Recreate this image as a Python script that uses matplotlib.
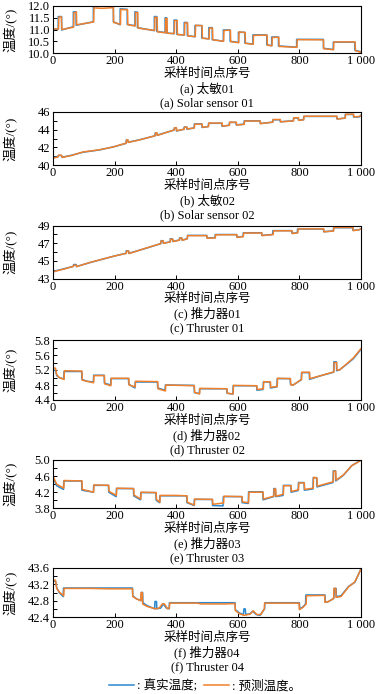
import matplotlib
matplotlib.use("Agg")
import matplotlib.pyplot as plt
from matplotlib.ticker import FixedLocator, FuncFormatter
from matplotlib.lines import Line2D

plt.rcParams['font.family'] = ['Liberation Serif', 'Noto Sans CJK SC']
plt.rcParams['axes.unicode_minus'] = False

# ---------------- data: (sample index, temperature) vertices ----------------
A_REAL = [(0, 11.0), (17, 11.02), (17, 11.55), (28, 11.55), (28, 10.98), (66, 11.12), (66, 11.75), (75, 11.75),
          (75, 11.18), (131, 11.33), (131, 12.0), (196, 11.98), (196, 11.33), (218, 11.2), (218, 11.88),
          (241, 11.86), (241, 11.22), (266, 11.16), (266, 11.75), (274, 11.74), (274, 11.08), (329, 10.95),
          (329, 11.55), (337, 11.55), (337, 10.92), (364, 10.87), (364, 11.5), (369, 11.5), (369, 10.85),
          (393, 10.82), (393, 11.4), (402, 11.4), (402, 10.8), (426, 10.76), (426, 11.3), (436, 11.3),
          (436, 10.74), (461, 10.69), (461, 11.17), (483, 11.17), (483, 10.64), (506, 10.6), (506, 11.08),
          (517, 11.08), (517, 10.57), (553, 10.5), (553, 10.98), (575, 10.98), (575, 10.5), (602, 10.45),
          (602, 10.88), (623, 10.88), (623, 10.42), (649, 10.38), (649, 10.77), (694, 10.77), (694, 10.35),
          (710, 10.31), (710, 10.68), (732, 10.68), (732, 10.3), (791, 10.25), (791, 10.58), (878, 10.58),
          (878, 10.2), (910, 10.15), (910, 10.46), (980, 10.46), (980, 10.12), (1000, 10.05)]
A_PRED = [(0, 11.02), (18, 11.03), (19, 11.52), (27, 11.54), (29, 11.0), (67, 11.1), (68, 11.72), (76, 11.74),
          (77, 11.2), (132, 11.32), (133, 11.92), (160, 11.9), (196, 11.93), (197, 11.3), (219, 11.22),
          (220, 11.85), (242, 11.84), (243, 11.2), (267, 11.15), (268, 11.72), (275, 11.72), (276, 11.06),
          (330, 10.96), (331, 11.52), (338, 11.52), (339, 10.9), (365, 10.86), (366, 11.47), (370, 11.47),
          (371, 10.84), (394, 10.83), (395, 11.38), (403, 11.38), (404, 10.78), (427, 10.77), (428, 11.28),
          (437, 11.28), (438, 10.72), (462, 10.7), (463, 11.18), (484, 11.16), (485, 10.63), (507, 10.6),
          (508, 11.06), (518, 11.06), (519, 10.56), (554, 10.5), (555, 10.96), (576, 10.97), (577, 10.48),
          (603, 10.44), (604, 10.9), (624, 10.87), (625, 10.41), (650, 10.37), (651, 10.75), (695, 10.76),
          (696, 10.33), (711, 10.31), (712, 10.66), (733, 10.67), (734, 10.28), (792, 10.24), (793, 10.57),
          (878, 10.56), (879, 10.18), (911, 10.14), (912, 10.47), (981, 10.47), (982, 10.1), (1000, 10.03)]

B_REAL = [(0, 40.85), (15, 40.9), (17, 41.08), (27, 41.08), (29, 40.88), (60, 41.1), (98, 41.45), (150, 41.7),
          (196, 42.05), (237, 42.45), (238, 42.82), (243, 42.8), (244, 42.58), (280, 42.85), (331, 43.3),
          (332, 43.62), (337, 43.6), (338, 43.38), (393, 43.95), (394, 44.2), (400, 44.2), (401, 43.85),
          (425, 44.05), (426, 44.3), (434, 44.3), (435, 44.05), (458, 44.2), (459, 44.65), (483, 44.65),
          (484, 44.25), (504, 44.35), (505, 44.72), (548, 44.72), (549, 44.38), (572, 44.5), (573, 44.82),
          (594, 44.82), (595, 44.55), (620, 44.62), (621, 45.0), (672, 45.0), (673, 44.7), (713, 44.85),
          (714, 45.12), (737, 45.12), (738, 44.9), (780, 45.0), (781, 45.32), (796, 45.32), (797, 45.08),
          (813, 45.12), (814, 45.5), (921, 45.5), (922, 45.22), (948, 45.3), (949, 45.72), (975, 45.72),
          (976, 45.42), (995, 45.45), (1000, 45.65)]
B_PRED = [(0, 40.8), (15, 40.88), (18, 41.1), (28, 41.1), (30, 40.85), (60, 41.08), (98, 41.48), (150, 41.72),
          (196, 42.05), (238, 42.48), (239, 42.85), (244, 42.82), (245, 42.56), (280, 42.83), (332, 43.32),
          (333, 43.65), (338, 43.62), (339, 43.35), (394, 43.98), (395, 44.22), (401, 44.2), (402, 43.88),
          (426, 44.05), (427, 44.28), (435, 44.28), (436, 44.08), (459, 44.2), (460, 44.62), (484, 44.62),
          (485, 44.28), (505, 44.35), (506, 44.75), (549, 44.74), (550, 44.4), (573, 44.5), (574, 44.85),
          (595, 44.84), (596, 44.52), (621, 44.6), (622, 44.98), (673, 44.98), (674, 44.68), (714, 44.85),
          (715, 45.15), (738, 45.15), (739, 44.88), (781, 45.0), (782, 45.35), (797, 45.35), (798, 45.05),
          (814, 45.12), (815, 45.52), (922, 45.52), (923, 45.2), (949, 45.32), (950, 45.75), (976, 45.75),
          (977, 45.45), (995, 45.5), (1000, 45.6)]

C_REAL = [(0, 43.8), (30, 44.05), (66, 44.38), (67, 44.58), (75, 44.58), (76, 44.35), (120, 44.8),
          (200, 45.55), (237, 45.85), (238, 46.15), (245, 46.12), (246, 45.85), (300, 46.4), (350, 46.95),
          (351, 47.28), (357, 47.28), (358, 47.0), (380, 47.15), (381, 47.5), (388, 47.48), (389, 47.2),
          (410, 47.35), (411, 47.6), (418, 47.58), (419, 47.35), (436, 47.5), (437, 47.88), (499, 47.88),
          (500, 47.58), (526, 47.62), (527, 47.98), (596, 47.98), (597, 47.7), (617, 47.75), (618, 48.18),
          (677, 48.18), (678, 47.88), (713, 47.98), (714, 48.42), (775, 48.42), (776, 48.12), (793, 48.18),
          (794, 48.6), (878, 48.6), (879, 48.3), (910, 48.38), (911, 48.75), (973, 48.75), (974, 48.45),
          (992, 48.5), (1000, 48.62)]
C_PRED = [(0, 43.75), (30, 44.02), (66, 44.36), (67, 44.5), (76, 44.5), (77, 44.35), (120, 44.82),
          (200, 45.55), (238, 45.85), (239, 46.12), (246, 46.1), (247, 45.82), (300, 46.42), (350, 46.95),
          (351, 47.25), (358, 47.25), (359, 46.98), (381, 47.15), (382, 47.45), (389, 47.45), (390, 47.18),
          (411, 47.35), (412, 47.58), (419, 47.56), (420, 47.32), (436, 47.5), (437, 47.85), (500, 47.85),
          (501, 47.55), (527, 47.6), (528, 47.95), (597, 47.95), (598, 47.65), (618, 47.75), (619, 48.15),
          (678, 48.15), (679, 47.85), (715, 47.98), (716, 48.4), (776, 48.4), (777, 48.08), (795, 48.18),
          (796, 48.62), (879, 48.62), (880, 48.28), (911, 48.38), (912, 48.78), (974, 48.78), (975, 48.42),
          (992, 48.5), (1000, 48.62)]

D_REAL = [(0, 5.18), (8, 5.2), (12, 5.05), (20, 5.0), (35, 4.96), (36, 5.16), (93, 5.16), (94, 4.95),
          (110, 4.9), (131, 4.88), (132, 5.06), (166, 5.06), (167, 4.85), (187, 4.8), (188, 4.97), (245, 4.97),
          (246, 4.82), (266, 4.72), (267, 4.88), (339, 4.88), (340, 4.72), (364, 4.66), (365, 4.8), (458, 4.79),
          (459, 4.6), (475, 4.57), (476, 4.7), (564, 4.7), (565, 4.58), (584, 4.56), (585, 4.78), (661, 4.78),
          (662, 4.66), (682, 4.68), (683, 4.88), (705, 4.88), (706, 4.72), (727, 4.75), (728, 4.97),
          (770, 4.97), (771, 4.82), (780, 4.8), (806, 4.94), (807, 5.13), (832, 5.13), (833, 4.95), (870, 5.05),
          (911, 5.14), (912, 5.42), (920, 5.42), (921, 5.18), (930, 5.2), (953, 5.35), (975, 5.5), (1000, 5.75)]
D_PRED = [(0, 5.25), (8, 5.25), (12, 5.08), (20, 5.0), (36, 4.95), (37, 5.18), (94, 5.17), (95, 4.93),
          (110, 4.9), (132, 4.86), (133, 5.05), (167, 5.05), (168, 4.83), (188, 4.78), (189, 4.98), (246, 4.98),
          (247, 4.8), (267, 4.75), (268, 4.9), (340, 4.89), (341, 4.7), (365, 4.64), (366, 4.8), (459, 4.78),
          (460, 4.6), (476, 4.56), (477, 4.71), (565, 4.7), (566, 4.58), (585, 4.56), (586, 4.79), (662, 4.78),
          (663, 4.68), (683, 4.7), (684, 4.89), (706, 4.88), (707, 4.74), (728, 4.76), (729, 4.98),
          (771, 4.97), (772, 4.8), (780, 4.8), (807, 4.95), (808, 5.14), (833, 5.14), (834, 4.97), (870, 5.05),
          (912, 5.15), (913, 5.4), (921, 5.4), (922, 5.2), (930, 5.2), (953, 5.36), (975, 5.52), (1000, 5.77)]

E_REAL = [(0, 4.57), (12, 4.36), (34, 4.27), (35, 4.48), (93, 4.48), (94, 4.25), (131, 4.2), (132, 4.37),
          (180, 4.37), (181, 4.2), (205, 4.09), (206, 4.29), (261, 4.29), (262, 4.11), (284, 4.01), (285, 4.19),
          (334, 4.19), (335, 4.0), (346, 3.94), (347, 4.11), (434, 4.11), (435, 3.94), (458, 3.87), (459, 4.02),
          (517, 4.02), (518, 3.87), (552, 3.86), (553, 4.09), (613, 4.09), (614, 3.94), (634, 3.92), (635, 4.21),
          (681, 4.21), (682, 4.01), (716, 4.09), (717, 4.29), (722, 4.29), (723, 4.09), (747, 4.12),
          (748, 4.37), (772, 4.37), (773, 4.2), (796, 4.24), (797, 4.44), (815, 4.44), (816, 4.25), (844, 4.28),
          (845, 4.56), (856, 4.56), (857, 4.33), (909, 4.44), (910, 4.73), (917, 4.73), (918, 4.48),
          (943, 4.62), (970, 4.86), (1000, 5.0)]
E_PRED = [(0, 4.6), (12, 4.4), (35, 4.3), (36, 4.49), (94, 4.48), (95, 4.27), (132, 4.2), (133, 4.38),
          (181, 4.37), (182, 4.22), (206, 4.12), (207, 4.3), (262, 4.29), (263, 4.13), (285, 4.03), (286, 4.2),
          (335, 4.19), (336, 4.02), (347, 3.95), (348, 4.12), (400, 4.12), (435, 4.11), (436, 3.95), (459, 3.88),
          (460, 4.03), (518, 4.02), (519, 3.9), (540, 3.92), (554, 3.93), (555, 4.1), (614, 4.09), (615, 3.96),
          (635, 3.94), (636, 4.2), (682, 4.2), (683, 4.03), (717, 4.1), (718, 4.28), (723, 4.28), (724, 4.1),
          (748, 4.15), (749, 4.36), (773, 4.36), (774, 4.22), (797, 4.26), (798, 4.43), (816, 4.43),
          (817, 4.27), (845, 4.3), (846, 4.57), (857, 4.55), (858, 4.35), (910, 4.46), (911, 4.72), (918, 4.72),
          (919, 4.5), (943, 4.63), (970, 4.86), (1000, 4.99)]

F_REAL = [(0, 43.28), (8, 43.28), (12, 43.12), (20, 43.0), (33, 42.9), (34, 43.11), (258, 43.11), (259, 42.92),
          (270, 42.85), (286, 42.8), (287, 43.0), (291, 43.0), (292, 42.75), (305, 42.68), (330, 42.6),
          (331, 42.78), (336, 42.78), (337, 42.6), (350, 42.62), (358, 42.72), (368, 42.62), (377, 42.6),
          (378, 42.75), (591, 42.75), (592, 42.58), (605, 42.5), (618, 42.46), (620, 42.6), (624, 42.6),
          (626, 42.46), (640, 42.48), (648, 42.54), (660, 42.46), (672, 42.44), (687, 42.6), (688, 42.75),
          (800, 42.75), (801, 42.6), (812, 42.65), (820, 42.72), (821, 42.94), (883, 42.94), (884, 42.76),
          (895, 42.78), (912, 42.86), (913, 43.1), (919, 43.1), (920, 42.9), (935, 42.92), (960, 43.15),
          (980, 43.25), (1000, 43.58)]
F_PRED = [(0, 43.3), (8, 43.3), (12, 43.1), (22, 43.0), (35, 42.92), (36, 43.1), (120, 43.1), (180, 43.09),
          (258, 43.09), (259, 42.9), (272, 42.84), (285, 42.8), (286, 43.0), (290, 43.0), (291, 42.72),
          (305, 42.66), (332, 42.6), (345, 42.62), (355, 42.72), (362, 42.72), (372, 42.6), (378, 42.62),
          (379, 42.74), (470, 42.74), (480, 42.72), (560, 42.72), (591, 42.73), (592, 42.56), (605, 42.48),
          (620, 42.44), (640, 42.47), (650, 42.55), (662, 42.46), (675, 42.46), (686, 42.6), (687, 42.74),
          (799, 42.74), (800, 42.58), (812, 42.64), (822, 42.72), (823, 42.92), (882, 42.93), (883, 42.76),
          (895, 42.78), (911, 42.85), (912, 43.1), (918, 43.1), (919, 42.88), (935, 42.9), (960, 43.14),
          (980, 43.26), (1000, 43.57)]

X_TICKS = [0, 200, 400, 600, 800, 1000]
X_LABEL = "采样时间点序号"
Y_LABEL = "温度/(°)"
CAPTIONS_CN = ["(a) 太敏01", "(b) 太敏02", "(c) 推力器01", "(d) 推力器02", "(e) 推力器03", "(f) 推力器04"]
CAPTIONS_EN = ["(a) Solar sensor 01", "(b) Solar sensor 02", "(c) Thruster 01",
               "(d) Thruster 02", "(e) Thruster 03", "(f) Thruster 04"]
Y_LIMS = [(10.0, 12.0), (40, 46), (43, 49), (4.4, 6.0), (3.8, 5.0), (42.4, 43.6)]
Y_MAJOR = [[10.0, 10.5, 11.0, 11.5, 12.0], [40, 42, 44, 46], [43, 45, 47, 49],
           [4.4, 4.8, 5.2, 5.6, 6.0], [3.8, 4.2, 4.6, 5.0], [42.4, 42.8, 43.2, 43.6]]
Y_MAJOR_LABELS = [["10.0", "10.5", "11.0", "11.5", "12.0"], ["40", "42", "44", "46"], ["43", "45", "47", "49"],
                  ["4.4", "4.8", "5.2", "5.6", "5.8"], ["3.8", "4.2", "4.6", "5.0"], ["42.4", "42.8", "43.2", "43.6"]]
Y_MINOR = [[], [41, 43, 45], [44, 46, 48], [4.6, 5.0, 5.4, 5.8], [4.0, 4.4, 4.8], [42.6, 43.0, 43.4]]
LEGEND_LABELS = [": 真实温度;", ": 预测温度。"]

SERIES = [(A_REAL, A_PRED), (B_REAL, B_PRED), (C_REAL, C_PRED),
          (D_REAL, D_PRED), (E_REAL, E_PRED), (F_REAL, F_PRED)]

# ---------------- layout (pixel boxes of the six axes) ----------------
W, H = 379, 694
BOXES = [(6, 53), (112, 165), (225.5, 278.5), (340, 400), (460, 508.3), (568, 617)]
LEFT, RIGHT = 53, 361
BLUE = '#2a88d0'
ORANGE = '#f0802c'
FS = 9
LW = 1.1

fig = plt.figure(figsize=(W / 100, H / 100), dpi=100)

xfmt = FuncFormatter(lambda v, p: f"{int(round(v)):,}".replace(",", " "))

for i, ((top, bot), (real, pred)) in enumerate(zip(BOXES, SERIES)):
    ax = fig.add_axes([LEFT / W, 1 - bot / H, (RIGHT - LEFT) / W, (bot - top) / H])
    rx, ry = zip(*real)
    px, py = zip(*pred)
    ax.plot(rx, ry, color=BLUE, lw=LW, solid_joinstyle='round')
    ax.plot(px, py, color=ORANGE, lw=LW, solid_joinstyle='round')
    ax.set_xlim(0, 1000)
    ax.set_ylim(*Y_LIMS[i])
    ax.xaxis.set_major_locator(FixedLocator(X_TICKS))
    ax.xaxis.set_major_formatter(xfmt)
    ax.set_yticks(Y_MAJOR[i])
    ax.set_yticklabels(Y_MAJOR_LABELS[i])
    ax.yaxis.set_minor_locator(FixedLocator(Y_MINOR[i]))
    ax.tick_params(which='both', direction='in', length=3, width=0.7, labelsize=FS,
                   top=False, right=False)
    ax.tick_params(axis='x', pad=1.5)
    ax.tick_params(axis='y', pad=2)
    for s in ax.spines.values():
        s.set_linewidth(0.8)
    # y label as free text centred at x = 10 px
    yc = 1 - (top + bot) / 2 / H
    fig.text(10.5 / W, yc, Y_LABEL, rotation=90, ha='center', va='center', fontsize=9.5)
    xc = (LEFT + RIGHT) / 2 / W
    fig.text(xc, 1 - (bot + 20.5) / H, X_LABEL, ha='center', va='center', fontsize=FS)
    fig.text(xc, 1 - (bot + 35) / H, CAPTIONS_CN[i], ha='center', va='center', fontsize=FS)
    fig.text(xc, 1 - (bot + 50) / H, CAPTIONS_EN[i], ha='center', va='center', fontsize=FS)

handles = [Line2D([], [], color=BLUE, lw=LW), Line2D([], [], color=ORANGE, lw=LW)]
fig.legend(handles, LEGEND_LABELS, loc='center', bbox_to_anchor=(205 / W, 1 - 686 / H), ncol=2,
           frameon=False, fontsize=FS, handlelength=2.0, handletextpad=0.2, columnspacing=0.6,
           borderpad=0, borderaxespad=0)

fig.savefig("out.png", dpi=100)
